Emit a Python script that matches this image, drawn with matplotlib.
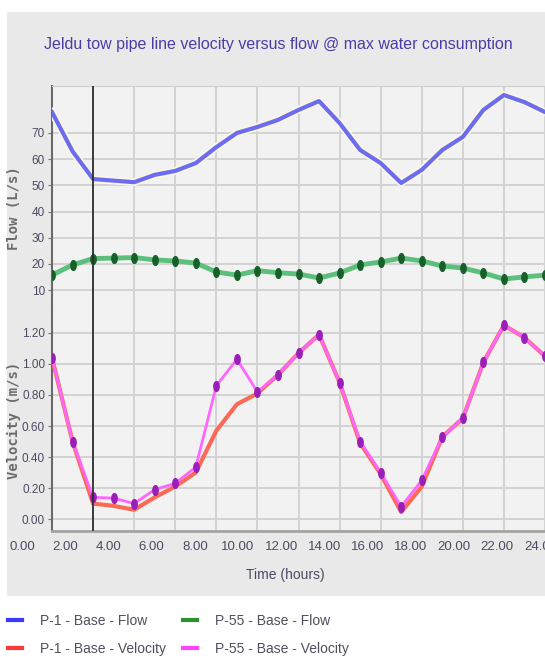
import numpy as np
import matplotlib
matplotlib.use("Agg")
import matplotlib.pyplot as plt
from matplotlib.lines import Line2D
from matplotlib.patches import Rectangle
from matplotlib.path import Path
import matplotlib.patheffects as pe
from matplotlib import font_manager

# ---- data (hourly simulation results) ----
hours = list(range(25))
flow_p1 = [78, 63, 52.4, 51.8, 51.2, 54.0, 55.5, 58.5, 64.6, 70.0, 72.3, 75.0, 78.8,
           82.2, 73.8, 63.5, 58.5, 50.9, 55.9, 63.5, 68.5, 78.8, 84.5, 81.8, 78.0]
flow_p55 = [15.7, 19.6, 22.0, 22.2, 22.4, 21.5, 21.1, 20.3, 16.9, 15.7, 17.4, 16.6, 16.1,
            14.6, 16.5, 19.6, 20.7, 22.2, 21.1, 19.2, 18.4, 16.5, 14.2, 15.0, 15.7]
vel_p1 = [1.04, 0.50, 0.10, 0.085, 0.06, 0.14, 0.21, 0.30, 0.57, 0.74, 0.81, 0.93, 1.07,
          1.19, 0.88, 0.49, 0.29, 0.045, 0.21, 0.53, 0.65, 1.01, 1.25, 1.17, 1.05]
vel_p55 = [1.04, 0.50, 0.14, 0.135, 0.10, 0.19, 0.23, 0.335, 0.86, 1.03, 0.82, 0.93, 1.07,
           1.19, 0.88, 0.50, 0.30, 0.08, 0.25, 0.53, 0.65, 1.01, 1.25, 1.17, 1.05]

time_ticks = list(range(0, 25, 2))
flow_ticks = [10, 20, 30, 40, 50, 60, 70]
vel_ticks = [0.0, 0.2, 0.4, 0.6, 0.8, 1.0, 1.2]

title = "Jeldu tow pipe line velocity versus flow @ max water consumption"
series_labels = ["P-1 - Base - Flow", "P-1 - Base - Velocity",
                 "P-55 - Base - Flow", "P-55 - Base - Velocity"]

# ---- fonts ----
names = {f.name for f in font_manager.fontManager.ttflist}
narrow = "Liberation Sans Narrow" if "Liberation Sans Narrow" in names else "Liberation Sans"

W, H = 545, 657
def fx(px):
    return px / W
def fy(py):
    return 1 - py / H

fig = plt.figure(figsize=(W / 100, H / 100), dpi=100)
fig.patch.set_facecolor("white")
fig.patches.append(Rectangle((fx(7), fy(596)), fx(545 - 7), (596 - 12) / H,
                             transform=fig.transFigure, facecolor="#e9e9e9",
                             edgecolor="none", zorder=-10))

px_per_hour = 20.6
x_max = (545 - 52) / px_per_hour

ax_f = fig.add_axes([fx(52), fy(310), fx(545 - 52), (310 - 86) / H])
ax_v = fig.add_axes([fx(52), fy(531), fx(545 - 52), (531 - 310) / H], sharex=ax_f)

t = np.linspace(0, 2 * np.pi, 40)
ellipse = Path(np.column_stack([0.55 * np.cos(t), np.sin(t)]))
halo = [pe.Stroke(linewidth=5.5, foreground="#fbf7e4"), pe.Normal()]

tick_color = "#4b4a63"
for ax in (ax_f, ax_v):
    ax.set_facecolor("#f2f2f2")
    ax.set_xlim(0, x_max)
    ax.set_xticks(time_ticks)
    ax.tick_params(axis="x", length=0, labelbottom=False)
    ax.tick_params(axis="y", length=3, width=0.8, color="#777777", pad=2,
                   labelsize=8.5, labelcolor=tick_color)
    ax.grid(True, color="#d3d3d3", lw=1.4)
    ax.set_axisbelow(True)
    ax.spines["right"].set_visible(False)
    ax.spines["left"].set_color("#6a6a6a")
    ax.spines["left"].set_linewidth(1.5)
    ax.axvline(2, color="#2e2e2e", lw=1.3, zorder=5)

ax_f.spines["bottom"].set_visible(False)
ax_f.spines["top"].set_color("#cfcfcf")
ax_v.spines["top"].set_visible(False)
ax_v.spines["bottom"].set_color("#a3a3a3")
ax_v.spines["bottom"].set_linewidth(2)

# flow panel
ax_f.plot(hours, flow_p1, color="#6c6cf0", lw=3.0, path_effects=halo, zorder=3)
ax_f.plot(hours, flow_p55, color="#5cc07c", lw=3.5, marker=ellipse, ms=7,
          mfc="#17602a", mec="#17602a", zorder=3)
ax_f.set_ylim(2.36, 87.96)
ax_f.set_yticks(flow_ticks)
ax_f.set_yticklabels([str(v) for v in flow_ticks], family=narrow)

# velocity panel
ax_v.plot(hours, vel_p1, color="#fb6a55", lw=3.0, zorder=3)
ax_v.plot(hours, vel_p55, color="#ff66ff", lw=2.0, marker=ellipse, ms=7,
          mfc="#9a1fb8", mec="#9a1fb8", zorder=4)
ax_v.set_ylim(-0.077, 1.348)
ax_v.set_yticks(vel_ticks)
ax_v.set_yticklabels([f"{v:.2f}" for v in vel_ticks], family=narrow)

# time labels row
lab_ax = fig.add_axes([0, fy(533), 1, 0.0001])
lab_ax.set_xlim(-22 / 21.6, (545 - 22) / 21.6)
lab_ax.set_xticks(time_ticks)
lab_ax.set_xticklabels([f"{v:.2f}" for v in time_ticks], family=narrow,
                       fontsize=9.5, color=tick_color)
lab_ax.tick_params(axis="x", length=0, pad=6)
lab_ax.set_yticks([])
lab_ax.patch.set_visible(False)
for s in lab_ax.spines.values():
    s.set_visible(False)

fig.text(fx(285), fy(575), "Time (hours)", ha="center", va="center",
         family=narrow, fontsize=10, color=tick_color)

ylab_kw = dict(rotation=90, ha="center", va="center", family="DejaVu Sans Mono",
               weight="bold", fontsize=10, color="#6b6b6b")
fig.text(fx(14), fy(208), "Flow (L/s)", **ylab_kw)
fig.text(fx(14), fy(420), "Velocity (m/s)", **ylab_kw)

fig.text(fx(278), fy(45), title, ha="center", va="center", family=narrow,
         fontsize=11.5, color="#4b3ca8")

handles = [Line2D([], [], color=c, lw=3) for c in
           ("#3a3aff", "#ff3a3a", "#2f8f2f", "#ff44ff")]
fig.legend(handles, series_labels, ncol=2, loc="upper left",
           bbox_to_anchor=(fx(8), fy(614)), frameon=False, borderpad=0,
           borderaxespad=0, handlelength=1.0, handletextpad=1.3, columnspacing=1.2,
           labelspacing=1.02, labelcolor="#4f4f5f", prop={"family": narrow, "size": 10})

fig.savefig("out.png", dpi=100)
